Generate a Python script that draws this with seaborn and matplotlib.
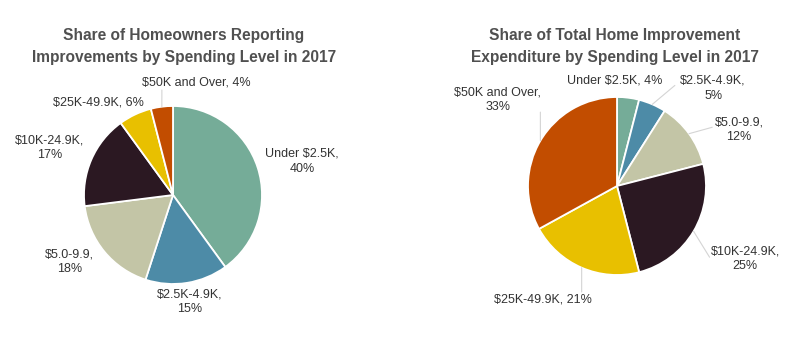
import numpy as np
import seaborn as sns
import matplotlib
matplotlib.use("Agg")
import matplotlib.pyplot as plt

# Spending levels and shares (%).
categories = ["Under $2.5K", "$2.5K-4.9K", "$5.0-9.9", "$10K-24.9K", "$25K-49.9K", "$50K and Over"]
share_homeowners = [40, 15, 18, 17, 6, 4]
share_expenditure = [4, 5, 12, 25, 21, 33]

left_title = "Share of Homeowners Reporting\nImprovements by Spending Level in 2017"
right_title = "Share of Total Home Improvement\nExpenditure by Spending Level in 2017"

colors = sns.color_palette(["#75AC98", "#4D8BA7", "#C3C5A6", "#2B1822", "#E8C000", "#C24D00"])

# Label layout (in pie-radius units): text centre and whether the label wraps.
left_label_xy = [(1.45, 0.38), (0.19, -1.20), (-1.16, -0.75), (-1.39, 0.53), (-0.84, 1.04), (0.26, 1.26)]
left_wrap = [True, True, True, True, False, False]
left_leader = [None, None, None, None, None, (-0.125, 1.18)]

right_label_xy = [(-0.03, 1.18), (1.08, 1.10), (1.37, 0.63), (1.44, -0.82), (-0.83, -1.27), (-1.34, 0.97)]
right_wrap = [False, True, True, True, False, True]
right_leader = [None, (0.65, 1.13), (1.07, 0.66), (1.04, -0.80), (-0.397, -1.19), (-0.861, 0.83)]

sns.set_theme(style="white")
plt.rcParams["font.family"] = ["Liberation Sans", "DejaVu Sans"]

W, H = 800, 356
fig = plt.figure(figsize=(W / 100, H / 100), dpi=100)


def draw_pie(px_box, center, radius, values, label_xy, wrap, leader, title, title_x):
    x0, x1, top, bottom = px_box
    ax = fig.add_axes([x0 / W, 1 - bottom / H, (x1 - x0) / W, (bottom - top) / H])
    wedges, _ = ax.pie(values, colors=colors, startangle=90, counterclock=False,
                       wedgeprops=dict(edgecolor="white", linewidth=1.3))
    ax.set_aspect("auto")
    ax.set_xlim((x0 - center[0]) / radius, (x1 - center[0]) / radius)
    ax.set_ylim((center[1] - bottom) / radius, (center[1] - top) / radius)
    ax.axis("off")

    for w, cat, val, (tx, ty), wr, ld in zip(wedges, categories, values, label_xy, wrap, leader):
        sep = "\n" if wr else " "
        ax.text(tx, ty, "{},{}{}%".format(cat, sep, val), ha="center", va="center",
                fontsize=9, color="#333333", linespacing=1.33, zorder=5)
        if ld is not None:
            mid = np.deg2rad((w.theta1 + w.theta2) / 2)
            ax.plot([np.cos(mid), ld[0]], [np.sin(mid), ld[1]], color="#D4D4D4", lw=0.8, zorder=1)

    fig.text(title_x / W, 1 - 46.5 / H, title, ha="center", va="center", fontsize=11.2,
             fontweight="bold", color="#505050", linespacing=1.6)


draw_pie((0, 400, 70, 356), (173, 195), 89, share_homeowners, left_label_xy,
         left_wrap, left_leader, left_title, 184)
draw_pie((400, 800, 70, 356), (617, 186), 89, share_expenditure, right_label_xy,
         right_wrap, right_leader, right_title, 615)

fig.savefig("out.png", dpi=100, facecolor="white")
